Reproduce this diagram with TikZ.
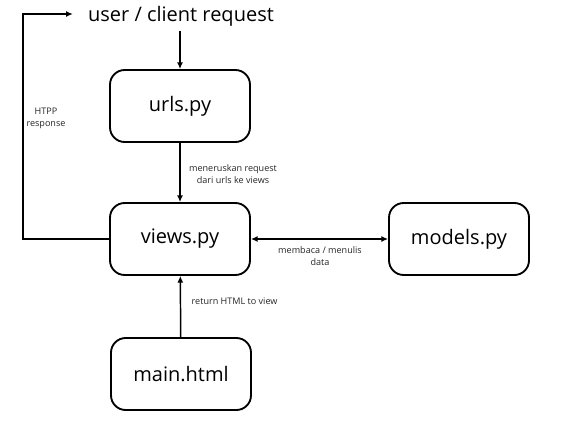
\documentclass[tikz,border=0pt]{standalone}
\usepackage{fontspec}
\setmainfont{Open Sans}
\usetikzlibrary{arrows.meta}
\begin{document}
\begin{tikzpicture}[x=0.75pt,y=-0.75pt,
    >={Latex[length=5pt,width=4.5pt]},
    box/.style={draw,line width=1.4pt,rounded corners=11pt,minimum width=105pt,minimum height=54pt,font=\fontsize{15}{18}\selectfont},
    lbl/.style={font=\fontsize{6.8}{9}\selectfont,align=center,text=black!85}]

    \useasboundingbox (0,0) rectangle (574,421);

    \node (req) at (181,16) {\fontsize{15}{18}\selectfont user / client request};
    \node[box] (urls) at (180,106) {urls.py};
    \node[box] (views) at (180,239) {views.py};
    \node[box] (models) at (459,239) {models.py};
    \node[box] (main) at (181,374) {main.html};
    \coordinate (back) at (23,14);

    \draw[->,line width=1.1pt] (req.south -| urls.north) -- (urls.north);
    \draw[->,line width=1.1pt] (urls) -- (views);
    \draw[<->,line width=1.1pt] (views) -- (models);
    \draw[->,line width=1.1pt] (main) -- (views);
    \draw[->,line width=1.1pt] (views.west) -| (back) -- ([xshift=-8pt]req.west |- back);

    \node[lbl] (l1) at (233,174) {meneruskan request\\dari urls ke views};
    \node[lbl] (l2) at (320,256) {membaca / menulis\\data};
    \node[lbl,anchor=west] (l3) at (187,301) {return HTML to view};
    \node[lbl] (l4) at (46,118) {HTPP\\response};

\end{tikzpicture}
\end{document}
